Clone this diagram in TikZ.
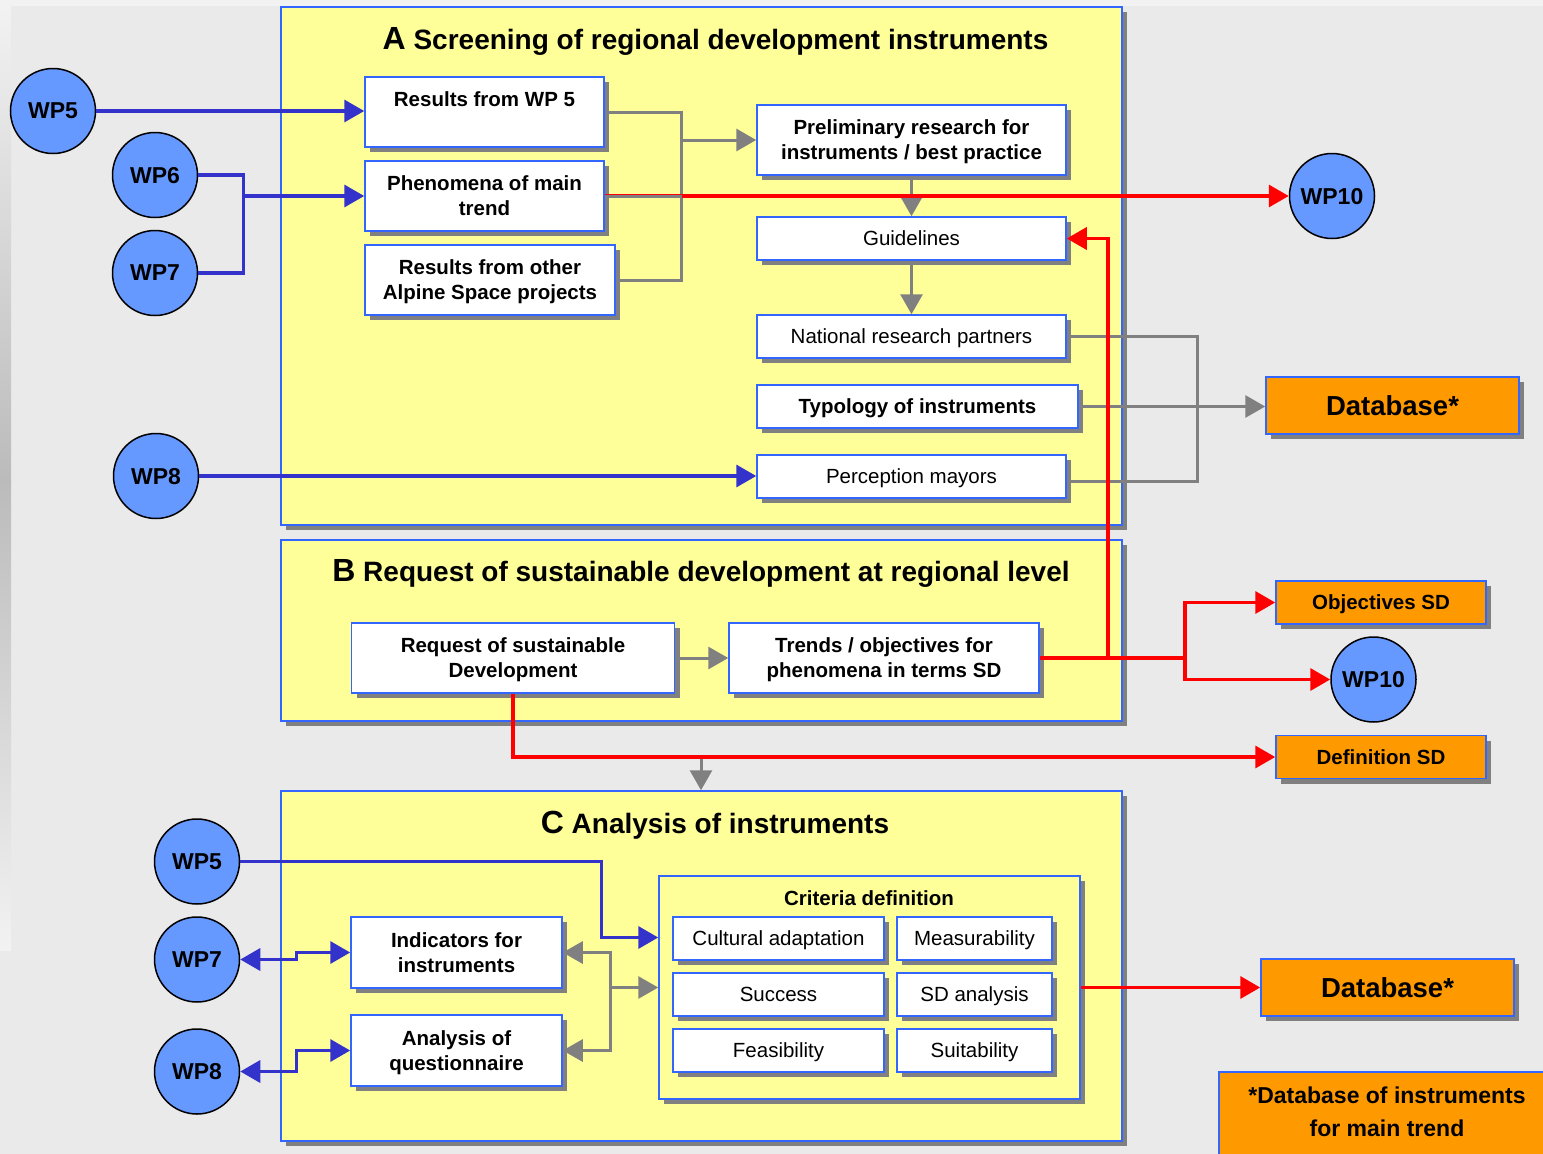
\documentclass[tikz,border=0pt]{standalone}
\usepackage{fontspec}
\setmainfont{Liberation Sans}
\usetikzlibrary{arrows.meta,shadows,calc}
\definecolor{bgg}{HTML}{EAEAEA}
\definecolor{bgl}{HTML}{F2F2F2}
\definecolor{stripd}{HTML}{BBBBBB}
\definecolor{pyel}{HTML}{FFFF99}
\definecolor{bdb}{HTML}{3366FF}
\definecolor{wpb}{HTML}{6699FF}
\definecolor{lnb}{HTML}{3333CC}
\definecolor{lng}{HTML}{808080}
\definecolor{lnr}{HTML}{FF0000}
\definecolor{orng}{HTML}{FF9900}
\definecolor{shg}{HTML}{808080}
\tikzset{
  shd/.style={drop shadow={shadow xshift=5pt,shadow yshift=-5pt,fill=shg,opacity=1}},
  panel/.style={draw=bdb,fill=pyel,line width=1.5pt,shd,inner sep=0pt},
  wbox/.style={draw=bdb,fill=white,line width=1.5pt,shd,inner sep=0pt,align=center,text depth=0pt,
    font=\fontsize{20.5}{25}\selectfont\bfseries},
  nbox/.style={wbox,font=\fontsize{20.5}{25}\selectfont},
  obox/.style={draw=bdb,fill=orng,line width=1.5pt,shd,inner sep=0pt,align=center,text depth=0pt,
    font=\fontsize{20.5}{25}\selectfont\bfseries},
  wp/.style={circle,draw=black,fill=wpb,line width=1.5pt,minimum size=85pt,inner sep=0pt,text depth=0pt,
    font=\fontsize{23}{27}\selectfont\bfseries},
  ptitle/.style={inner sep=0pt,text depth=0pt,font=\fontsize{28}{34}\selectfont\bfseries},
  tip/.style={-{Triangle[length=20pt,width=22pt]}},
  bline/.style={draw=lnb,line width=3.5pt},
  gline/.style={draw=lng,line width=3pt},
  rline/.style={draw=lnr,line width=3.5pt},
  barrow/.style={bline,tip},
  garrow/.style={gline,tip},
  rarrow/.style={rline,tip},
  dbl/.style={{Triangle[length=20pt,width=22pt]}-{Triangle[length=20pt,width=22pt]}},
}
\begin{document}
\begin{tikzpicture}[x=1pt,y=-1pt,line join=miter]
\useasboundingbox (0,0) rectangle (1543,1154);
% background
\fill[bgg] (0,0) rectangle (1543,1154);
\fill[bgl] (0,0) rectangle (1543,6);
\shade[top color=bgl,bottom color=stripd] (0,6) rectangle (11,480);
\shade[top color=stripd,bottom color=bgl] (0,480) rectangle (11,950);

% panels
\node[panel,minimum width=841pt,minimum height=518pt] (pA) at (701.5,266) {};
\node[panel,minimum width=841pt,minimum height=181pt] (pB) at (701.5,630.5) {};
\node[panel,minimum width=841pt,minimum height=350pt] (pC) at (701.5,966) {};
\node[ptitle] (tA) at (715.5,38) {{\fontsize{32}{34}\selectfont A} Screening of regional development instruments};
\node[ptitle] (tB) at (701,570) {{\fontsize{32}{34}\selectfont B} Request of sustainable development at regional level};
\node[ptitle] (tC) at (715,822) {{\fontsize{32}{34}\selectfont C} Analysis of instruments};

% A boxes
\node[wbox,minimum width=239pt,minimum height=70pt] (r5) at (484.5,112) {Results from WP 5\\\strut};
\node[wbox,minimum width=239pt,minimum height=70pt] (ph) at (484.5,196) {Phenomena of main\\trend};
\node[wbox,minimum width=250pt,minimum height=70pt] (ro) at (490,280) {Results from other\\Alpine Space projects};
\node[wbox,minimum width=309pt,minimum height=70pt] (pr) at (911.5,140) {Preliminary research for\\instruments / best practice};
\node[nbox,minimum width=309pt,minimum height=43pt] (gd) at (911.5,238.5) {Guidelines};
\node[nbox,minimum width=309pt,minimum height=43pt] (nr) at (911.5,336.5) {National research partners};
\node[wbox,minimum width=321pt,minimum height=43pt] (ty) at (917.5,406.5) {Typology of instruments};
\node[nbox,minimum width=309pt,minimum height=43pt] (pm) at (911.5,476.5) {Perception mayors};

% B boxes
\node[wbox,minimum width=323pt,minimum height=70pt] (rq) at (513,658) {Request of sustainable\\Development};
\node[wbox,minimum width=310pt,minimum height=70pt] (td) at (884,658) {Trends / objectives for\\phenomena in terms SD};

% C boxes
\node[wbox,minimum width=211pt,minimum height=71pt] (ind) at (456.5,952.5) {Indicators for\\instruments};
\node[wbox,minimum width=211pt,minimum height=71pt] (an) at (456.5,1050.5) {Analysis of\\questionnaire};
\node[draw=bdb,fill=pyel,line width=1.5pt,shd,minimum width=421pt,minimum height=223pt,inner sep=0pt] (crit) at (869.5,987.5) {};
\node[inner sep=0pt,text depth=0pt,font=\fontsize{20.5}{25}\selectfont\bfseries] (critt) at (869,898) {Criteria definition};
\node[nbox,minimum width=211pt,minimum height=43pt] (ca) at (778.5,938.5) {Cultural adaptation};
\node[nbox,minimum width=155pt,minimum height=43pt] (me) at (974.5,938.5) {Measurability};
\node[nbox,minimum width=211pt,minimum height=43pt] (su) at (778.5,994.5) {Success};
\node[nbox,minimum width=155pt,minimum height=43pt] (sd) at (974.5,994.5) {SD analysis};
\node[nbox,minimum width=211pt,minimum height=43pt] (fe) at (778.5,1050.5) {Feasibility};
\node[nbox,minimum width=155pt,minimum height=43pt] (sui) at (974.5,1050.5) {Suitability};

% orange boxes
\node[obox,minimum width=253pt,minimum height=57pt,font=\fontsize{27.5}{30}\selectfont\bfseries] (db1) at (1392.5,405.5) {Database*};
\node[obox,minimum width=210pt,minimum height=43pt] (obj) at (1381,602.5) {Objectives SD};
\node[obox,minimum width=210pt,minimum height=43pt] (defn) at (1381,757) {Definition SD};
\node[obox,minimum width=253pt,minimum height=57pt,font=\fontsize{27.5}{30}\selectfont\bfseries] (db2) at (1387.5,987.5) {Database*};
\begin{scope}
\clip (0,0) rectangle (1543,1154);
\node[draw=bdb,fill=orng,line width=1.5pt,anchor=north west,minimum width=345pt,minimum height=100pt,inner sep=0pt] (fn) at (1218,1071) {};
\end{scope}
\node[inner sep=0pt,align=center,font=\fontsize{23}{33}\selectfont\bfseries] (fnt) at (1387,1112) {*Database of instruments\\for main trend};

% WP circles
\node[wp] (wp5a) at (53,111) {WP5};
\node[wp] (wp6) at (155,175) {WP6};
\node[wp] (wp7a) at (155,273) {WP7};
\node[wp] (wp8a) at (156,476) {WP8};
\node[wp] (wp10a) at (1332,196) {WP10};
\node[wp] (wp10b) at (1373.5,679.5) {WP10};
\node[wp] (wp5c) at (197,861.5) {WP5};
\node[wp] (wp7c) at (197,959.5) {WP7};
\node[wp] (wp8c) at (197,1071.5) {WP8};

% ---- connectors A
\draw[barrow] (wp5a.east) -- (wp5a.east -| r5.west);
\draw[bline] (wp6.east) -- ++(45,0) coordinate (j67) |- (wp7a.east);
\draw[barrow] (j67 |- ph.west) -- (ph.west);
\draw[barrow] (wp8a.east) -- (wp8a.east -| pm.west);

\draw[gline] (r5.east) -- ++(77,0) coordinate (jA) |- (ro.east);
\draw[gline] (ph.east) -- (ph.east -| jA);
\draw[garrow] (jA |- pr.west) -- (pr.west);
\draw[garrow] (pr.south) -- (gd.north);
\draw[garrow] (gd.south) -- (nr.north);
\draw[gline] (nr.east) -- ++(131,0) coordinate (jD) |- ([yshift=-5pt]pm.east);
\draw[garrow] (ty.east) -- (ty.east -| db1.west);

\draw[lnr,line width=0.8pt] ([yshift=1.5pt]ph.east) -- ([yshift=1.5pt]ph.east -| jA);
\draw[rarrow] (ph.east -| jA) -- (wp10a.west);

% ---- connectors B
\draw[garrow] (rq.east) -- (td.west);
\coordinate (gC) at (701,758);
\draw[garrow] (gC) -- (gC |- pC.north);
\draw[rline] (td.east) -- ++(68,0) coordinate (jR) -- ++(77,0) coordinate (jS);
\draw[rarrow] (jR) |- (gd.east);
\draw[rarrow] (jS) |- (obj.west);
\draw[rarrow] (jS) |- (wp10b.west);
\draw[rarrow] (rq.south) |- (defn.west);

% ---- connectors C
\draw[barrow] (wp5c.east) -- ++(361,0) |- ([yshift=50pt]crit.west);
\draw[bline,dbl] (wp7c.east) -- ++(56,0) |- (ind.west);
\draw[bline,dbl] (wp8c.east) -- ++(56,0) |- (an.west);
\draw[gline,dbl] (ind.east) -- ++(48,0) coordinate (jG) |- (an.east);
\draw[garrow] (jG |- crit.west) -- (crit.west);
\draw[rarrow] (crit.east) -- (crit.east -| db2.west);
\end{tikzpicture}
\end{document}
